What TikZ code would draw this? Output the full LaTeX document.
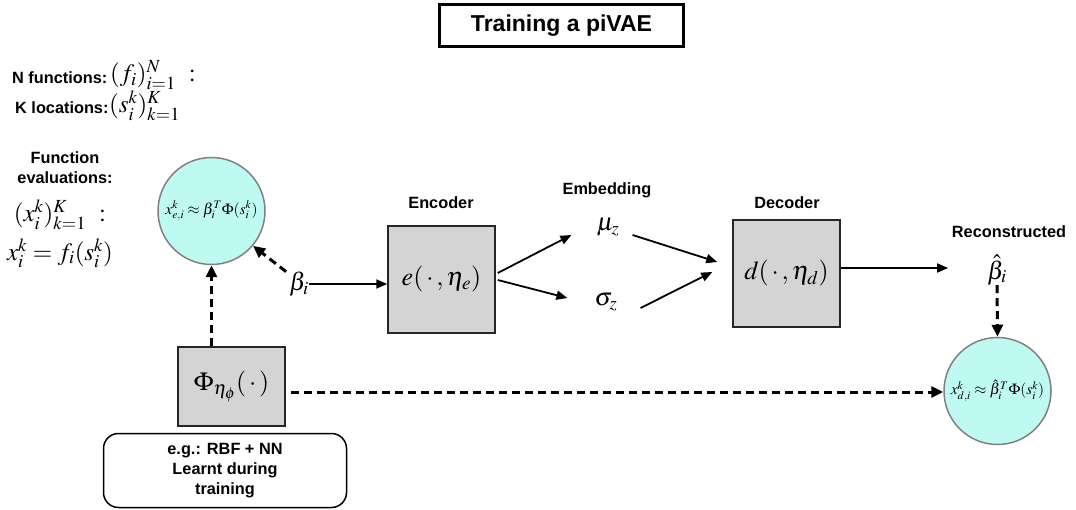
\documentclass[tikz,border=0pt]{standalone}
\usepackage{mathptmx}
\usepackage{fontspec}
\setsansfont{Liberation Sans}
\usetikzlibrary{arrows.meta}
\definecolor{cyanfill}{RGB}{190,250,242}
\begin{document}
\begin{tikzpicture}[x=1pt,y=-1pt,
 lbl/.style={font=\sffamily\bfseries\fontsize{16.3}{20}\selectfont, inner sep=0pt, align=center},
 mth/.style={font=\fontsize{25}{28}\selectfont, inner sep=0pt},
 box/.style={draw=black!85, line width=1.5pt, fill=black!17, minimum width=107pt, minimum height=107pt, inner sep=0pt, font=\fontsize{26}{28}\selectfont},
 circ/.style={circle, draw=black!50, line width=1.5pt, fill=cyanfill, minimum size=107pt, inner sep=0pt, font=\fontsize{15.5}{18}\selectfont},
 arr/.style={line width=1.8pt, -{Triangle[length=11pt,width=9pt]}},
 darr/.style={line width=3pt, dash pattern=on 8pt off 5pt, -{Triangle[length=12pt,width=11pt]}},
 titlebox/.style={draw=black, line width=3pt, minimum width=244pt, minimum height=42pt, inner sep=0pt, font=\sffamily\bfseries\fontsize{23}{26}\selectfont},
 notebox/.style={draw=black, line width=1.5pt, rounded corners=15pt, minimum width=243pt, minimum height=74pt, inner sep=0pt, align=center, font=\sffamily\bfseries\fontsize{16.3}{20}\selectfont}
]
\useasboundingbox (0,0) rectangle (1076,510);
\node[titlebox] (title) at (561.5,25.5) {Training a piVAE};

\node[lbl, anchor=west] (nf) at (12,78) {N functions:};
\node[mth, anchor=west] (nfm) at (110,75) {$(f_i)_{i=1}^N\ :$};
\node[lbl, anchor=west] (kl) at (15,108) {K locations:};
\node[mth, anchor=west] (klm) at (109,106) {$(s_i^k)_{k=1}^K$};
\node[lbl] (fe) at (65,168) {Function\\evaluations:};
\node[mth] (xm) at (60,215) {$(x_i^k)_{k=1}^K\ :$};
\node[mth] (xf) at (60,253) {$x_i^k = f_i(s_i^k)$};

\node[circ] (c1) at (211.5,211) {$x_{e,i}^k \approx \beta_i^T\Phi(s_i^k)$};
\node[mth] (beta) at (299,284) {$\beta_i$};

\node[box] (enc) at (441.5,279.5) {$e(\,\cdot\,,\eta_e)$};
\node[lbl] (enclbl) at (441,203) {Encoder};
\node[lbl] (emblbl) at (607,190) {Embedding};
\node[mth] (mu) at (608,227) {$\mu_z$};
\node[mth] (sig) at (606,302) {$\sigma_z$};
\node[box] (dec) at (786.5,273.5) {$d(\,\cdot\,,\eta_d)$};
\node[lbl] (declbl) at (787,203) {Decoder};
\node[lbl] (reclbl) at (1009,232) {Reconstructed};
\node[mth] (bhat) at (997,270) {$\hat\beta_i$};
\node[circ] (c2) at (997.5,391) {$x_{d,i}^k \approx \hat\beta_i^T\Phi(s_i^k)$};

\node[box, minimum height=79pt] (phi) at (231.5,386.5) {$\Phi_{\eta_\phi}(\,\cdot\,)$};
\node[notebox] (note) at (225,470.5) {e.g.: RBF + NN\\Learnt during\\training};

% connectors
\draw[darr] ([xshift=-3pt]beta.north west) -- (c1.-40);
\draw[arr] (beta.east) -- (enc.west |- beta.east);
\draw[arr] ([xshift=2pt,yshift=6.5pt]enc.east) -- ([xshift=-25pt,yshift=-8pt]mu.west);
\draw[arr] ([xshift=2pt,yshift=-0.5pt]enc.east) -- ([xshift=-27pt,yshift=4pt]sig.west);
\draw[arr] ([xshift=13pt,yshift=-8pt]mu.east) -- ([xshift=-15pt,yshift=11.5pt]dec.west);
\draw[arr] ([xshift=23pt,yshift=-6pt]sig.east) -- ([xshift=-20pt,yshift=1.5pt]dec.west);
\coordinate (decout) at ([yshift=5.5pt]dec.east);
\coordinate (bend) at ([xshift=-39pt]bhat.west);
\draw[arr] (decout) -- (bend |- decout);
\draw[darr] (bhat.south) -- (c2.north);
\draw[darr] (c1.south |- phi.north) -- (c1.south);
\coordinate (po) at ([xshift=5pt,yshift=-5.5pt]phi.east);
\draw[darr] (po) -- (c2.west |- po);
\end{tikzpicture}
\end{document}
